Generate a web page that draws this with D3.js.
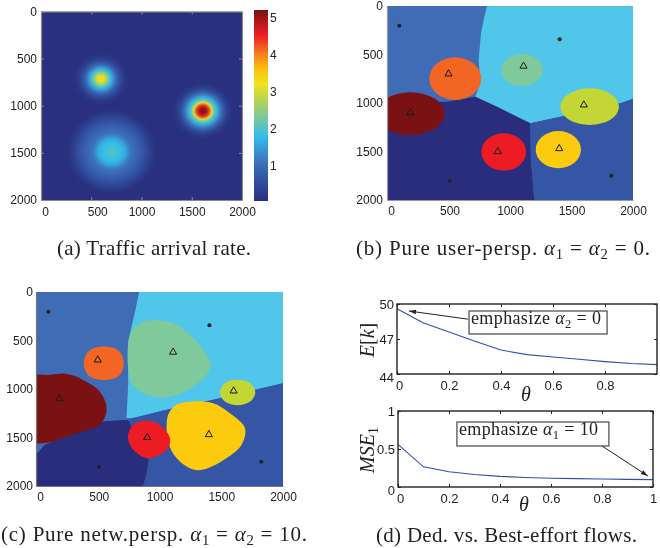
<!DOCTYPE html>
<html><head><meta charset="utf-8">
<script src="https://cdn.jsdelivr.net/npm/d3@7"></script>
<style>
html,body{margin:0;padding:0;background:#fff;overflow:hidden}
svg{display:block;filter:blur(0.35px)}
.num{font-family:"Liberation Sans",Arial,sans-serif;font-size:12px;fill:#222}
.cap{font-family:"Liberation Serif",serif;font-size:21px;fill:#222}
.ttl{font-family:"Liberation Serif",serif;font-size:20px;fill:#222}
.mth{font-family:"Liberation Serif",serif;font-size:18px;fill:#222}
</style></head><body>
<script>
// ---------- data ----------
const gridTicks = [0, 500, 1000, 1500, 2000];
const cbTicks = [1, 2, 3, 4, 5];
const cbStops = [0.03, 0.5, 1, 1.4, 1.75, 2.2, 2.7, 3.2, 3.6, 4.0, 4.5, 5.0, 5.2];
const cbColors = ["#2a2f7f","#2f4c9c","#3c6cb4","#3a93d2","#31bcea","#6ec8a8","#aed25a","#f0e31c","#fdc010","#f58020","#ee2024","#a01418","#741214"];

const hotspotNames = ["small", "strong", "wide"];
const hotspotCx = [597, 1610, 703];
const hotspotCy = [715, 1055, 1487];
const hotspotRadii = [
  [0, 30, 60, 90, 120, 150, 180, 210, 240, 280],
  [0, 30, 60, 90, 120, 150, 180, 210, 240, 280, 310],
  [0, 50, 100, 140, 170, 200, 260, 320, 370, 420, 450]
];
const hotspotValues = [
  [3.4, 3.15, 2.6, 1.9, 1.45, 0.95, 0.6, 0.33, 0.14, 0.05],
  [5.2, 5.0, 4.4, 3.0, 2.0, 1.55, 1.05, 0.65, 0.32, 0.1, 0.05],
  [2.0, 1.9, 1.75, 1.55, 1.25, 1.05, 0.85, 0.6, 0.35, 0.12, 0.05]
];
const baseValue = 0.05;

const regionColors = {nw:"#3f6cb5", ne:"#4fc6ea", sw:"#2a2d7c", se:"#3555a5"};
const blobColors = {maroon:"#7a1214", orange:"#f26522", green:"#7fc99b", lime:"#c3d636", red:"#ed1c24", yellow:"#fdcb0e"};

const stationX = [500, 1110, 1600, 190, 900, 1400];
const stationY = [700, 620, 1020, 1100, 1500, 1470];
const userX = [100, 1404, 510, 1824];
const userY = [203, 344, 1804, 1749];

const panelBNe = [[813,0],[786,144],[764,282],[745,557],[759,797],[718,935],[894,1038],[1165,1209],[1409,1141],[1897,1003],[2000,955],[2000,0]];
const panelBSw = [[0,1000],[488,986],[718,935],[894,1038],[1165,1209],[1170,1587],[1198,2000],[0,2000]];
const panelBSe = [[1165,1209],[1409,1141],[1897,1003],[2000,955],[2000,2000],[1198,2000],[1170,1587]];
const panelBNames = ["maroon","orange","green","lime","red","yellow"];
const panelBCx = [190, 555, 1098, 1648, 949, 1393];
const panelBCy = [1110, 749, 660, 1038, 1505, 1481];
const panelBRx = [279, 211, 169, 238, 182, 184];
const panelBRy = [220, 220, 165, 189, 192, 192];

const panelCNe = [[835,0],[808,168],[746,511],[746,957],[733,1300],[787,1300],[1057,1214],[1435,1111],[2000,940],[2000,0]];
const panelCSw = [[0,1677],[70,1574],[516,1334],[746,1317],[914,1729],[895,1883],[868,2000],[0,2000]];
const panelCSe = [[787,1300],[1057,1214],[1435,1111],[2000,940],[2000,2000],[868,2000],[895,1883],[914,1729],[746,1317]];
const panelCMaroon = [[-90,880],[111,854],[246,844],[381,906],[503,1008],[565,1146],[565,1266],[516,1369],[381,1437],[246,1489],[111,1550],[-90,1530]];
const panelCOrange = [[549,562],[670,605],[711,734],[670,865],[549,906],[430,865],[387,734],[430,605]];
const panelCGreen = [[746,545],[773,408],[841,322],[949,288],[1111,322],[1246,442],[1354,597],[1414,734],[1381,854],[1273,974],[1138,1060],[1003,1087],[868,1043],[773,940],[746,785]];
const panelCYellow = [[1070,1266],[1138,1163],[1273,1128],[1435,1146],[1570,1249],[1692,1403],[1665,1574],[1543,1712],[1381,1821],[1273,1831],[1138,1712],[1070,1540]];
const panelCRed = [[746,1471],[787,1369],[895,1327],[1003,1369],[1084,1506],[1070,1609],[976,1694],[895,1712],[787,1626],[751,1540]];
const panelCLime = [[1633,904],[1735,940],[1776,1036],[1735,1130],[1633,1168],[1530,1130],[1490,1036],[1530,940]];

const theta = [0, 0.1, 0.2, 0.3, 0.4, 0.5, 0.6, 0.7, 0.8, 0.9, 1];
const ek = [49.6, 48.4, 47.6, 46.8, 46.05, 45.66, 45.46, 45.26, 45.06, 44.9, 44.8];
const mse = [0.56, 0.265, 0.2, 0.165, 0.14, 0.125, 0.115, 0.11, 0.105, 0.1, 0.097];
const thetaTicks = [0, 0.2, 0.4, 0.6, 0.8];
const ekTicks = [44, 47, 50];
const mseTicks = [0, 0.5, 1];
const mseTickLabelsX = [0, 0.2, 0.4, 0.6, 0.8, 1];

// ---------- helpers ----------
const svg = d3.select("body").append("svg").attr("width", 660).attr("height", 548);
const defs = svg.append("defs");
const color = d3.scaleLinear().domain(cbStops).range(cbColors).clamp(true);
const fmt = d => String(d);

function rich(g, x, y, len, cls, parts){
  const t = g.append("text").attr("class", cls).attr("x", x).attr("y", y).attr("xml:space","preserve").style("white-space","pre");
  if(len) t.attr("textLength", len).attr("lengthAdjust","spacing");
  let shift = 0;
  parts.forEach(p => {
    const s = t.append("tspan").text(p.t);
    if(p.i) s.style("font-style","italic");
    const want = p.sub ? 4 : 0;
    if(want !== shift){ s.attr("dy", want - shift); shift = want; }
    if(p.sub) s.style("font-size","70%");
  });
  return t;
}
const A = t => ({t, i:true});
const S = t => ({t, sub:true});
const N = t => ({t});

function gridPanel(id, x0, x1, y0, y1, opt){
  const x = d3.scaleLinear().domain([0, 2000]).range([x0, x1]);
  const y = d3.scaleLinear().domain([0, 2000]).range([y0, y1]);
  defs.append("clipPath").attr("id", "clip" + id).append("rect")
    .attr("x", x0).attr("y", y0).attr("width", x1 - x0).attr("height", y1 - y0);
  const g = svg.append("g");
  const plot = g.append("g").attr("clip-path", `url(#clip${id})`);
  return {x, y, g, plot, x0, x1, y0, y1, opt};
}
function gridAxes(p, frame, domainColor, offs){
  const gx = p.g.append("g").attr("transform", `translate(0,${p.y1})`)
    .call(d3.axisBottom(p.x).tickValues(gridTicks).tickFormat(fmt).tickSizeInner(frame ? -3 : 0).tickSizeOuter(0).tickPadding(offs.pb));
  const gy = p.g.append("g").attr("transform", `translate(${p.x0},0)`)
    .call(d3.axisLeft(p.y).tickValues(gridTicks).tickFormat(fmt).tickSizeInner(frame ? -3 : 0).tickSizeOuter(0).tickPadding(offs.pl));
  [gx, gy].forEach(a => {
    a.selectAll("path").attr("stroke", domainColor).attr("stroke-width", 1.2);
    a.selectAll("line").attr("stroke", domainColor);
    a.selectAll("text").attr("class", "num").attr("font-family", null).attr("font-size", null);
  });
  gx.attr("font-size", null).attr("font-family", null);
  gy.attr("font-size", null).attr("font-family", null);
  gx.selectAll("text").attr("dx", d => d === 0 ? 4 : d === 500 ? offs.d500 : 0);
  if(frame){
    [d3.axisTop(p.x), d3.axisRight(p.y)].forEach((ax, i) => {
      const a = p.g.append("g").attr("transform", i ? `translate(${p.x1},0)` : `translate(0,${p.y0})`)
        .call(ax.tickValues(gridTicks).tickFormat("").tickSizeInner(-3).tickSizeOuter(0));
      a.selectAll("path").attr("stroke", domainColor).attr("stroke-width", 1.2);
      a.selectAll("line").attr("stroke", domainColor);
    });
  }
}
function markers(p){
  const tri = d3.symbol().type(d3.symbolTriangle).size(22);
  p.g.append("g").selectAll("path").data(stationX).join("path")
    .attr("d", tri).attr("fill", "none").attr("stroke", "#1a1a1a").attr("stroke-width", 1)
    .attr("transform", (d, i) => `translate(${p.x(d)},${p.y(stationY[i])})`);
  p.g.append("g").selectAll("circle").data(userX).join("circle")
    .attr("cx", d => p.x(d)).attr("cy", (d, i) => p.y(userY[i])).attr("r", 2).attr("fill", "#222");
}
function poly(p, pts, fill, curve){
  const l = d3.line().x(d => p.x(d[0])).y(d => p.y(d[1])).curve(curve || d3.curveLinearClosed);
  p.plot.append("path").attr("d", l(pts)).attr("fill", fill);
}
function backdrop(p, ne, sw, se){
  p.plot.append("rect").attr("x", p.x0).attr("y", p.y0).attr("width", p.x1 - p.x0).attr("height", p.y1 - p.y0).attr("fill", regionColors.nw);
  poly(p, ne, regionColors.ne);
  poly(p, sw, regionColors.sw);
  poly(p, se, regionColors.se);
}

// ---------- panel a ----------
const pa = gridPanel("a", 41, 242, 11.5, 200);
pa.plot.append("rect").attr("x", 41).attr("y", 11.5).attr("width", 201).attr("height", 188.5).attr("fill", color(baseValue));
hotspotNames.forEach((name, i) => {
  const radii = hotspotRadii[i], vals = hotspotValues[i], R = radii[radii.length - 1];
  const grad = defs.append("radialGradient").attr("id", "hs" + name);
  grad.selectAll("stop").data(radii).join("stop")
    .attr("offset", d => d / R).attr("stop-color", (d, k) => color(vals[k]));
  pa.plot.append("ellipse")
    .attr("cx", pa.x(hotspotCx[i])).attr("cy", pa.y(hotspotCy[i]))
    .attr("rx", pa.x(R) - pa.x(0)).attr("ry", pa.y(R) - pa.y(0))
    .attr("fill", `url(#hs${name})`);
});
gridAxes(pa, true, "#8a8a8a", {pb:7.5, pl:4, d500:6});

// colorbar
const cbY = d3.scaleLinear().domain([0.03, 5.2]).range([201, 10]);
const cbGrad = defs.append("linearGradient").attr("id", "cb").attr("x1", 0).attr("x2", 0).attr("y1", 1).attr("y2", 0);
cbGrad.selectAll("stop").data(cbStops).join("stop")
  .attr("offset", d => (d - 0.03) / (5.2 - 0.03)).attr("stop-color", (d, i) => cbColors[i]);
svg.append("rect").attr("x", 254).attr("y", 10).attr("width", 14).attr("height", 191).attr("fill", "url(#cb)");
svg.append("g").selectAll("text").data(cbTicks).join("text").attr("class", "num")
  .attr("x", 270).attr("y", d => cbY(d) + 4.5).text(fmt);

// ---------- panel b ----------
const pb = gridPanel("b", 387, 633, 6, 200);
backdrop(pb, panelBNe, panelBSw, panelBSe);
pb.plot.selectAll("ellipse").data(panelBNames).join("ellipse")
  .attr("cx", (d, i) => pb.x(panelBCx[i])).attr("cy", (d, i) => pb.y(panelBCy[i]))
  .attr("rx", (d, i) => pb.x(panelBRx[i]) - pb.x(0)).attr("ry", (d, i) => pb.y(panelBRy[i]) - pb.y(0))
  .attr("fill", d => blobColors[d]);
gridAxes(pb, false, "#9a9a9a", {pb:6, pl:4, d500:1});
markers(pb);

// ---------- panel c ----------
const pc = gridPanel("c", 36, 283, 292, 486);
backdrop(pc, panelCNe, panelCSw, panelCSe);
const closed = d3.curveCatmullRomClosed.alpha(0.5);
poly(pc, panelCMaroon, blobColors.maroon, closed);
poly(pc, panelCOrange, blobColors.orange, closed);
poly(pc, panelCGreen, blobColors.green, closed);
poly(pc, panelCYellow, blobColors.yellow, closed);
poly(pc, panelCRed, blobColors.red, closed);
poly(pc, panelCLime, blobColors.lime, closed);
gridAxes(pc, false, "#777", {pb:6.5, pl:3, d500:1});
markers(pc);

// ---------- panel d ----------
function linePanel(x0, x1, y0, y1, yDom, series, yTicks, xTicks){
  const x = d3.scaleLinear().domain([0, 1]).range([x0, x1]);
  const y = d3.scaleLinear().domain(yDom).range([y1, y0]);
  const g = svg.append("g");
  g.append("path").datum(series)
    .attr("d", d3.line().x((d, i) => x(theta[i])).y(d => y(d)))
    .attr("fill", "none").attr("stroke", "#2f4fb0").attr("stroke-width", 1.1);
  g.append("rect").attr("x", x0).attr("y", y0).attr("width", x1 - x0).attr("height", y1 - y0)
    .attr("fill", "none").attr("stroke", "#222").attr("stroke-width", 1.4);
  const gx = g.append("g").attr("transform", `translate(0,${y1})`)
    .call(d3.axisBottom(x).tickValues(xTicks).tickFormat(fmt).tickSizeInner(-3).tickSizeOuter(0).tickPadding(7));
  const gy = g.append("g").attr("transform", `translate(${x0},0)`)
    .call(d3.axisLeft(y).tickValues(yTicks).tickFormat(fmt).tickSizeInner(-3).tickSizeOuter(0).tickPadding(3));
  const gt = g.append("g").attr("transform", `translate(0,${y0})`)
    .call(d3.axisTop(x).tickValues(xTicks).tickFormat("").tickSizeInner(-3).tickSizeOuter(0));
  const gr = g.append("g").attr("transform", `translate(${x1},0)`)
    .call(d3.axisRight(y).tickValues(yTicks).tickFormat("").tickSizeInner(-3).tickSizeOuter(0));
  [gx, gy, gt, gr].forEach(a => {
    a.attr("font-size", null).attr("font-family", null);
    a.selectAll("path").remove();
    a.selectAll("line").attr("stroke", "#222");
    a.selectAll("text").attr("class", "num").style("font-size", "13px");
  });
  gx.selectAll("text").attr("dx", d => d === 0 ? 2 : 0);
  gy.selectAll("text").attr("dy", d => d === yDom[0] ? "0.6em" : "0.32em");
  return {x, y, g};
}
function arrow(p, from, to){
  const x1 = p.x(from[0]), y1 = p.y(from[1]), x2 = p.x(to[0]), y2 = p.y(to[1]);
  const a = Math.atan2(y2 - y1, x2 - x1), L = 7, W = 2.3;
  p.g.append("line").attr("x1", x1).attr("y1", y1).attr("x2", x2).attr("y2", y2).attr("stroke", "#222").attr("stroke-width", 1);
  const bx = x2 - L * Math.cos(a), by = y2 - L * Math.sin(a), nx = -Math.sin(a) * W, ny = Math.cos(a) * W;
  p.g.append("path").attr("d", `M${x2},${y2}L${bx + nx},${by + ny}L${bx - nx},${by - ny}Z`).attr("fill", "#222");
}
function box(p, tl, br){
  p.g.append("rect").attr("x", p.x(tl[0])).attr("y", p.y(tl[1]))
    .attr("width", p.x(br[0]) - p.x(tl[0])).attr("height", p.y(br[1]) - p.y(tl[1]))
    .attr("fill", "#fff").attr("stroke", "#555").attr("stroke-width", 1.3);
}
const top_ = linePanel(397, 657, 304, 374, [44, 50], ek, ekTicks, thetaTicks);
const bot = linePanel(398, 653, 411, 487, [0, 1], mse, mseTicks, mseTickLabelsX);

arrow(top_, [0.273, 48.7], [0.046, 49.4]);
box(top_, [0.277, 49.4], [0.808, 47.43]);
rich(top_.g, 471, 324, 130, "mth", [N("emphasize "), A("α"), S("2"), N(" = 0")]);
box(bot, [0.231, 0.855], [0.827, 0.54]);
arrow(bot, [0.8, 0.54], [0.98, 0.145]);
rich(bot.g, 459, 435, 139, "mth", [N("emphasize "), A("α"), S("1"), N(" = 10")]);

// axis titles
const vtitle = (x, y, parts) => rich(svg, 0, 0, 0, "ttl", parts).attr("text-anchor", "middle").attr("transform", `translate(${x},${y}) rotate(-90)`);
vtitle(374, 340, [A("E"), N("["), A("k"), N("]")]);
vtitle(374, 450, [A("MSE"), S("1")]);
svg.append("text").attr("class", "ttl").attr("x", 526).attr("y", 401).attr("text-anchor", "middle").style("font-style", "italic").text("θ");
svg.append("text").attr("class", "ttl").attr("x", 524).attr("y", 511).attr("text-anchor", "middle").style("font-style", "italic").text("θ");

// captions
rich(svg, 57, 255, 194, "cap", [N("(a) Traffic arrival rate.")]);
rich(svg, 356, 255, 294, "cap", [N("(b) Pure user-persp. "), A("α"), S("1"), N(" = "), A("α"), S("2"), N(" = 0.")]);
rich(svg, 1, 541, 306, "cap", [N("(c) Pure netw.persp. "), A("α"), S("1"), N(" = "), A("α"), S("2"), N(" = 10.")]);
rich(svg, 376, 542, 261, "cap", [N("(d) Ded. vs. Best-effort flows.")]);
</script>
</body></html>
